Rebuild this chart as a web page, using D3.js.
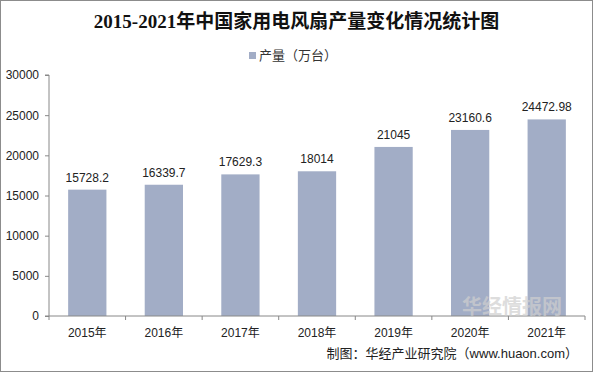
<!DOCTYPE html>
<html>
<head>
<meta charset="utf-8">
<script src="https://cdn.jsdelivr.net/npm/d3@7"></script>
<style>
  body { margin: 0; background: #fff; }
  svg { display: block; }
</style>
</head>
<body>
<div id="chart"></div>
<script>
const years = ['2015年', '2016年', '2017年', '2018年', '2019年', '2020年', '2021年'];
const output = [15728.2, 16339.7, 17629.3, 18014, 21045, 23160.6, 24472.98];
const outputLabels = ['15728.2', '16339.7', '17629.3', '18014', '21045', '23160.6', '24472.98'];
const yTicks = [0, 5000, 10000, 15000, 20000, 25000, 30000];

const width = 593, height = 372;
const margin = { top: 75, right: 8, bottom: 56, left: 49 };
const innerW = width - margin.left - margin.right;
const innerH = height - margin.top - margin.bottom;
const font = 'Arial, "Liberation Sans", "Noto Sans CJK SC", sans-serif';

const svg = d3.select('#chart').append('svg')
  .attr('width', width)
  .attr('height', height);

svg.append('rect')
  .attr('x', 0.5).attr('y', 0.5)
  .attr('width', width - 1).attr('height', height - 1)
  .attr('fill', '#fff')
  .attr('stroke', '#8c8c8c');

svg.append('text')
  .attr('x', width / 2)
  .attr('y', 28)
  .attr('text-anchor', 'middle')
  .style('font-family', '"Liberation Serif", "Noto Sans CJK SC", serif')
  .style('font-size', '19px')
  .style('font-weight', 'bold')
  .attr('fill', '#111')
  .text('2015-2021年中国家用电风扇产量变化情况统计图');

const chart = svg.append('g')
  .attr('transform', `translate(${margin.left},${margin.top})`);

const x = d3.scaleBand()
  .domain(years)
  .range([0, innerW])
  .paddingInner(0.5)
  .paddingOuter(0.25);

const y = d3.scaleLinear()
  .domain([0, 30000])
  .range([innerH, 0]);

// watermark (faint, behind the bars)
svg.append('text')
  .attr('x', 512).attr('y', 314)
  .attr('text-anchor', 'middle')
  .style('font-family', font)
  .style('font-size', '20px')
  .style('font-weight', 'bold')
  .attr('fill', '#cfcfcf')
  .attr('opacity', 0.7)
  .text('华经情报网');

chart.selectAll('.bar')
  .data(output)
  .enter()
  .append('rect')
  .classed('bar', true)
  .attr('x', (d, i) => x(years[i]))
  .attr('y', d => y(d))
  .attr('width', x.bandwidth())
  .attr('height', d => innerH - y(d))
  .attr('fill', '#a2adc6');

chart.selectAll('.bar-label')
  .data(output)
  .enter()
  .append('text')
  .classed('bar-label', true)
  .attr('x', (d, i) => x(years[i]) + x.bandwidth() / 2)
  .attr('y', d => y(d) - 8)
  .attr('text-anchor', 'middle')
  .style('font-family', font)
  .style('font-size', '12px')
  .attr('fill', '#222')
  .text((d, i) => outputLabels[i]);

const yAxis = d3.axisLeft(y).tickValues(yTicks).tickSize(4).tickPadding(6).tickFormat(d3.format('d'));
const gy = chart.append('g').classed('y axis', true).call(yAxis);
gy.select('.domain').attr('stroke', '#888').attr('d', `M-4,${innerH}H0V0H-4`);
gy.selectAll('.tick line').attr('stroke', '#888');
gy.selectAll('.tick text')
  .style('font-family', font)
  .style('font-size', '12px')
  .attr('fill', '#222');

// x axis: ticks sit on category boundaries
const bounds = d3.range(years.length + 1).map(i => i * innerW / years.length);
const gx = chart.append('g').classed('x axis', true)
  .attr('transform', `translate(0,${innerH})`);
gx.append('line')
  .attr('x1', 0).attr('x2', innerW)
  .attr('stroke', '#888');
gx.selectAll('.xtick')
  .data(bounds)
  .enter()
  .append('line')
  .attr('x1', d => d).attr('x2', d => d)
  .attr('y1', 0).attr('y2', 4)
  .attr('stroke', '#888');
gx.selectAll('.xlabel')
  .data(years)
  .enter()
  .append('text')
  .attr('x', d => x(d) + x.bandwidth() / 2)
  .attr('y', 21)
  .attr('text-anchor', 'middle')
  .style('font-family', font)
  .style('font-size', '12px')
  .attr('fill', '#222')
  .text(d => d);

// legend
const legend = svg.append('g').attr('transform', 'translate(249,52)');
legend.append('rect')
  .attr('width', 7).attr('height', 7)
  .attr('fill', '#a2adc6');
legend.append('text')
  .attr('x', 10).attr('y', 8)
  .style('font-family', font)
  .style('font-size', '13px')
  .attr('fill', '#333')
  .text('产量（万台）');

svg.append('text')
  .attr('x', 578).attr('y', 358)
  .attr('text-anchor', 'end')
  .style('font-family', font)
  .style('font-size', '13px')
  .attr('fill', '#222')
  .text('制图：华经产业研究院（www.huaon.com）');
</script>
</body>
</html>
